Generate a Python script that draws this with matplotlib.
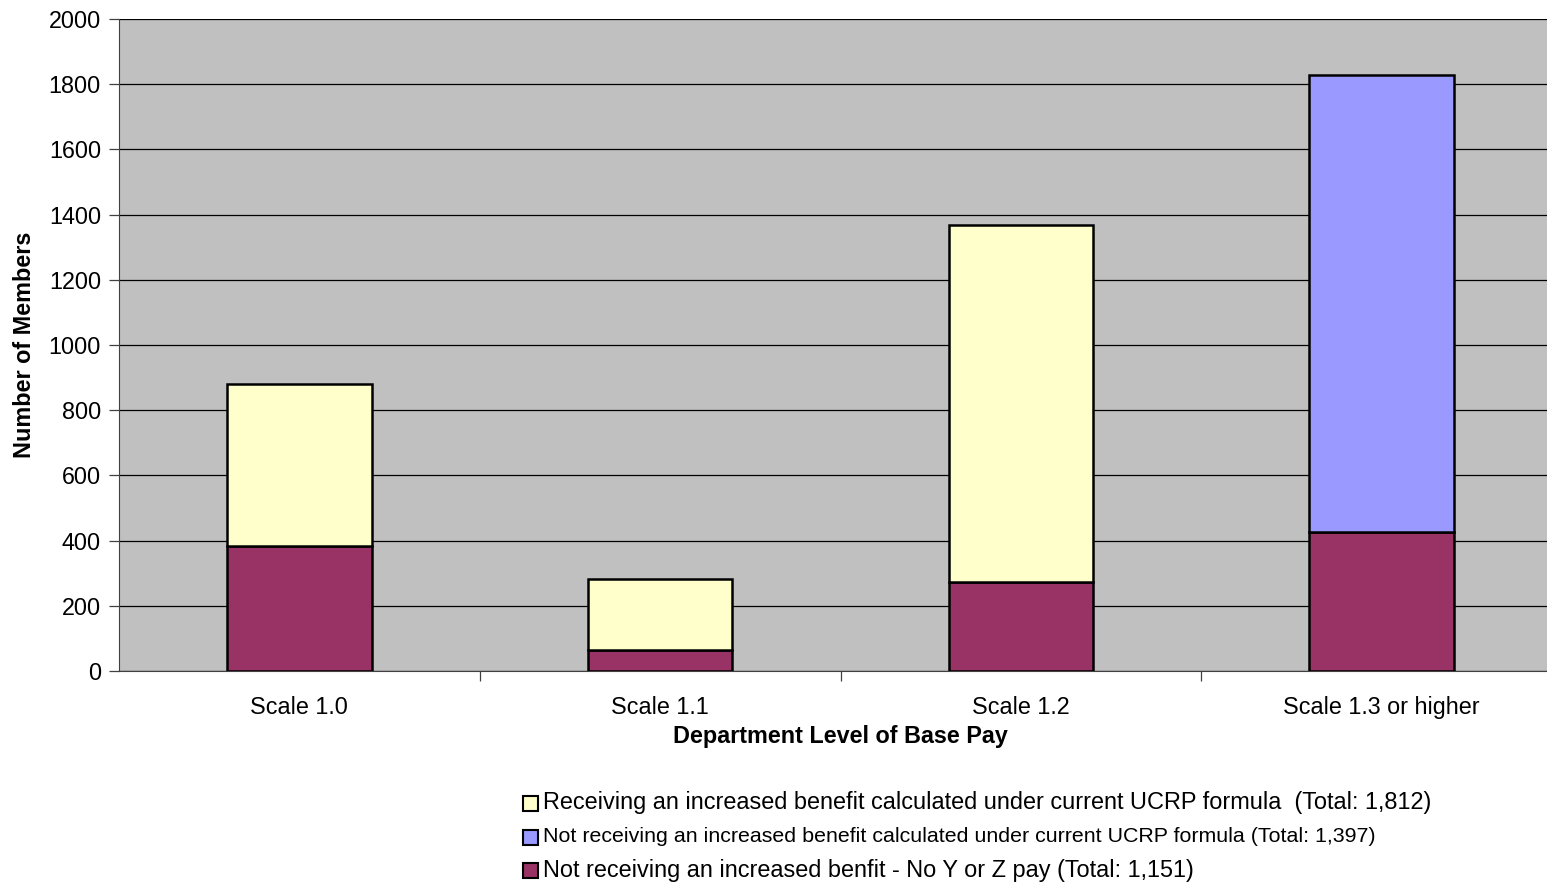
import matplotlib
matplotlib.use("Agg")
import matplotlib.pyplot as plt
from matplotlib.patches import Rectangle
import numpy as np

plt.rcParams['font.family'] = ['Liberation Sans', 'DejaVu Sans']

categories = ["Scale 1.0", "Scale 1.1", "Scale 1.2", "Scale 1.3 or higher"]
no_yz_pay = [383, 63, 273, 426]
increased = [497, 220, 1096, 0]
not_increased = [0, 0, 0, 1401]

legend_labels = [
    "Receiving an increased benefit calculated under current UCRP formula  (Total: 1,812)",
    "Not receiving an increased benefit calculated under current UCRP formula (Total: 1,397)",
    "Not receiving an increased benfit - No Y or Z pay (Total: 1,151)",
]

c_maroon = "#993366"
c_yellow = "#FFFFCC"
c_blue = "#9999FF"

W, H = 1547, 885
fig = plt.figure(figsize=(W / 100, H / 100), dpi=100)

# axes box in pixel space (the plot area runs slightly past the right edge)
left, right, top, bottom = 119, 1562, 19, 671
ax = fig.add_axes([left / W, 1 - bottom / H, (right - left) / W, (bottom - top) / H])
ax.set_facecolor("#C0C0C0")

x = np.arange(len(categories))
bw = 0.4
edge = dict(edgecolor="black", linewidth=1.8)
b1 = np.array(no_yz_pay)
b2 = b1 + np.array(increased)
ax.bar(x, no_yz_pay, bw, color=c_maroon, zorder=3, **edge)
for i in range(len(x)):
    if increased[i] > 0:
        ax.bar(x[i], increased[i], bw, bottom=b1[i], color=c_yellow, zorder=3, **edge)
    if not_increased[i] > 0:
        ax.bar(x[i], not_increased[i], bw, bottom=b2[i], color=c_blue, zorder=3, **edge)

ax.set_xlim(-0.5, len(categories) - 0.5)
ax.set_ylim(0, 2000)
ax.set_yticks(range(0, 2001, 200))
ax.yaxis.grid(True, color="black", linewidth=0.9)
ax.set_axisbelow(True)

ax.set_xticks(x)
ax.set_xticklabels(categories, fontsize=16.8)
ax.set_xticks(np.arange(0.5, len(categories) - 0.5, 1), minor=True)
ax.tick_params(axis="x", which="major", length=0, pad=18)
ax.tick_params(axis="x", which="minor", length=7, width=0.9, color="#404040")
ax.tick_params(axis="y", length=7, width=0.9, labelsize=16.8, color="#404040", pad=6)

for s in ["top", "right"]:
    ax.spines[s].set_visible(False)
ax.spines["left"].set_color("#404040")
ax.spines["bottom"].set_color("#404040")

ax.set_xlabel("Department Level of Base Pay", fontsize=16.8, fontweight="bold", labelpad=4)
fig.text(25 / W, 1 - 345 / H, "Number of Members", rotation=90, fontsize=16.8,
         fontweight="bold", ha="center", va="center")

# legend drawn row by row
rows = [(803, c_yellow, 16.9), (837, c_blue, 15.4), (870, c_maroon, 16.9)]
for (yc, col, fs), lab in zip(rows, legend_labels):
    sq = 15
    fig.add_artist(Rectangle((523 / W, 1 - (yc + sq / 2) / H), sq / W, sq / H,
                             transform=fig.transFigure, facecolor=col,
                             edgecolor="black", linewidth=1.5))
    fig.text(543 / W, 1 - yc / H, lab, fontsize=fs, ha="left", va="center")

fig.savefig("out.png", dpi=100)
